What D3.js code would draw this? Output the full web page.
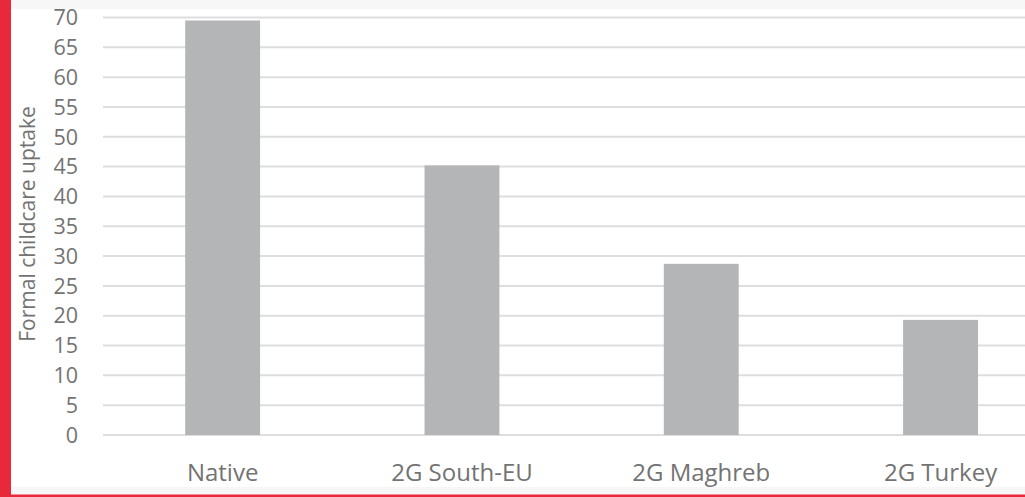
<!DOCTYPE html>
<html>
<head>
<meta charset="utf-8">
<script src="https://cdn.jsdelivr.net/npm/d3@7"></script>
<style>
    html, body { margin: 0; padding: 0; background: #ffffff; overflow: hidden; }
    text { font-family: "Open Sans", "DejaVu Sans", sans-serif; }
</style>
</head>
<body>
<div id="chart"></div>
<script>
// values
var categories = ['Native', '2G South-EU', '2G Maghreb', '2G Turkey'];
var uptake = [69.5, 45.2, 28.7, 19.3];
var yTicks = [0, 5, 10, 15, 20, 25, 30, 35, 40, 45, 50, 55, 60, 65, 70];
var yTitle = 'Formal childcare uptake';

var width = 1025, height = 497;
var textColor = '#737373';

var svg = d3.select('#chart').append('svg')
        .attr('width', width)
        .attr('height', height);

// page frame: red strip on the left, red rule at the bottom
svg.append('rect')
        .attr('x', 0).attr('y', 0)
        .attr('width', width).attr('height', 9)
        .attr('fill', '#f7f7f7');
svg.append('rect')
        .attr('x', 0).attr('y', 487)
        .attr('width', width).attr('height', 8)
        .attr('fill', '#f6f6f6');
svg.append('rect')
        .attr('x', 0).attr('y', 494.5)
        .attr('width', width).attr('height', 3)
        .attr('fill', '#e8283b');
svg.append('rect')
        .attr('x', 0).attr('y', 0)
        .attr('width', 11).attr('height', height)
        .attr('fill', '#e8283b');

var step = 239.3;
var x = d3.scaleBand()
        .domain(categories)
        .range([103, 103 + step * categories.length])
        .paddingInner(0.687)
        .paddingOuter(0.3435);

var y = d3.scaleLinear()
        .domain([0, 70])
        .range([435, 17.5]);

// gridlines
svg.append('g')
        .attr('class', 'grid')
        .selectAll('line')
        .data(yTicks)
        .enter()
        .append('line')
        .attr('x1', 103)
        .attr('x2', width)
        .attr('y1', function (d) { return y(d); })
        .attr('y2', function (d) { return y(d); })
        .attr('stroke', '#dedede')
        .attr('stroke-width', 2);

// tick labels
svg.append('g')
        .selectAll('text')
        .data(yTicks)
        .enter()
        .append('text')
        .attr('x', 78)
        .attr('y', function (d) { return y(d); })
        .attr('dy', '0.36em')
        .attr('text-anchor', 'end')
        .attr('fill', textColor)
        .style('font-size', '21.5px')
        .text(function (d) { return d; });

// bars
svg.append('g')
        .selectAll('rect')
        .data(uptake)
        .enter()
        .append('rect')
        .attr('x', function (d, i) { return x(categories[i]); })
        .attr('y', function (d) { return y(d); })
        .attr('width', x.bandwidth())
        .attr('height', function (d) { return y(0) - y(d); })
        .attr('fill', '#b4b5b7');

// category labels
svg.append('g')
        .selectAll('text')
        .data(categories)
        .enter()
        .append('text')
        .attr('x', function (d) { return x(d) + x.bandwidth() / 2; })
        .attr('y', 481)
        .attr('text-anchor', 'middle')
        .attr('fill', textColor)
        .style('font-size', '24px')
        .text(function (d) { return d; });

// y axis title
svg.append('text')
        .attr('transform', 'translate(35,224) rotate(-90)')
        .attr('text-anchor', 'middle')
        .attr('fill', textColor)
        .style('font-size', '21px')
        .text(yTitle);
</script>
</body>
</html>
